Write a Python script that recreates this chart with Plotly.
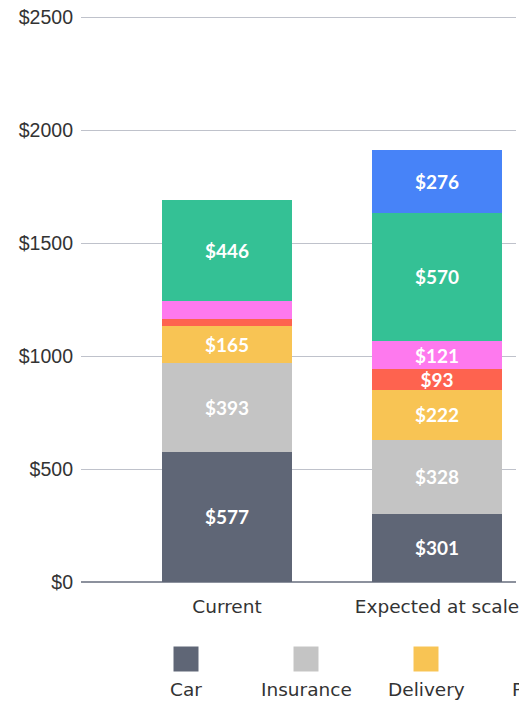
import plotly.graph_objects as go

# ---- data ----
categories = ["Current", "Expected at scale"]
series_names = ["Car", "Insurance", "Delivery", "Parking", "Fuel", "Labor", "Platform"]
car = [577, 301]
insurance = [393, 328]
delivery = [165, 222]
parking = [31, 93]
fuel = [78, 121]
labor = [446, 570]
platform = [0, 276]
colors = ["#5f6676", "#c4c4c4", "#f8c454", "#fe634f", "#fe79ee", "#34c195", "#4783f8"]
y_ticks = [0, 500, 1000, 1500, 2000, 2500]
y_tick_labels = [f"${v}" for v in y_ticks]

series_values = [car, insurance, delivery, parking, fuel, labor, platform]

# page body adds an 8px offset; compensate in margins
OFF = 8
W, H = 527, 703
M_L, M_T = 81 - OFF, 0
PLOT_RIGHT, PLOT_BOTTOM = 516 - OFF, 582 - OFF
M_R, M_B = W - PLOT_RIGHT, H - PLOT_BOTTOM
plot_w = PLOT_RIGHT - M_L
plot_h = PLOT_BOTTOM - M_T

fig = go.Figure()
for name, vals, col in zip(series_names, series_values, colors):
    fig.add_trace(go.Bar(
        x=categories, y=vals, name=name,
        marker=dict(color=col, line=dict(width=0)),
        width=0.62,
        text=[f"${v}" if v >= 90 else "" for v in vals],
        textposition="inside", insidetextanchor="middle",
        textangle=0, constraintext="none",
        textfont=dict(family="Lato", size=19, color="white", weight=700),
        showlegend=False,
    ))

# custom legend: square above the label
shapes, annos = [], []
for i, (name, col) in enumerate(zip(series_names, colors)):
    px = 186 - OFF + i * 120
    xp = (px - M_L) / plot_w
    shapes.append(dict(type="rect", xref="paper", yref="paper",
                       xsizemode="pixel", ysizemode="pixel",
                       xanchor=xp, yanchor=(582 - 659) / plot_h,
                       x0=-12.5, x1=12.5, y0=-12.5, y1=12.5,
                       fillcolor=col, line=dict(width=0)))
    annos.append(dict(xref="paper", yref="paper", x=xp, y=(582 - 689) / plot_h,
                      text=name, showarrow=False, xanchor="center", yanchor="middle",
                      font=dict(family="DejaVu Sans", size=18.5, color="#333333")))

fig.update_layout(
    width=W, height=H,
    margin=dict(l=M_L, r=M_R, t=M_T, b=M_B, autoexpand=False),
    barmode="stack",
    plot_bgcolor="white", paper_bgcolor="white",
    shapes=shapes, annotations=annos,
    xaxis=dict(range=[-0.695, 1.376], showgrid=False, showline=False, zeroline=False,
               ticks="", ticklabelstandoff=11, automargin=False,
               tickfont=dict(family="DejaVu Sans", size=18.5, color="#333333")),
    yaxis=dict(range=[0, 2540], tickmode="array", tickvals=y_ticks, ticktext=y_tick_labels,
               showgrid=True, gridcolor="#bfc2cb", gridwidth=1,
               zeroline=True, zerolinecolor="#8c919d", zerolinewidth=1.5,
               showline=False, ticks="", ticklabelstandoff=7, automargin=False,
               ticklabeloverflow="allow",
               tickfont=dict(family="Liberation Sans", size=19.5, color="#333333")),
)

fig.write_html("out.html")
